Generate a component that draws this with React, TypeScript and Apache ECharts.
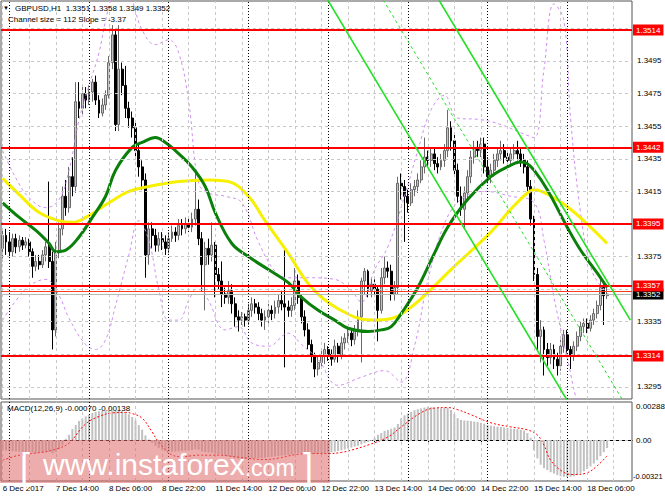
import React, { useEffect, useRef } from "react";
import * as echarts from "echarts";

const FONT = '"Liberation Sans", Arial, sans-serif';

// ---- time axis: trading hours shown (H1 bars) ----
const sessions: [string, number, number][] = [
  ["6 Dec", 22, 23], ["7 Dec", 0, 23], ["8 Dec", 0, 23], ["11 Dec", 0, 23], ["12 Dec", 0, 23],
  ["13 Dec", 0, 23], ["14 Dec", 0, 23], ["15 Dec", 0, 23], ["18 Dec", 0, 19],
];
const categories: string[] = [];
sessions.forEach(([d, a, b]) => {
  for (let h = a; h <= b; h++) categories.push(`${d} ${String(h).padStart(2, "0")}:00`);
});

// ---- candles [open, close, low, high] in pips above 1.3000 ----
const candles: number[][] = [
  [380,388,372,392],[388,384,376,392],[384,378,374,390],[378,386,375,389],[386,381,377,389],
  [381,385,378,388],[385,382,379,387],[382,384,380,387],[384,378,375,386],[378,369,362,380],
  [369,372,366,376],[372,370,367,376],[370,376,368,379],[376,381,372,384],[381,372,368,421],
  [372,330,318,378],[330,378,326,384],[378,392,374,396],[392,412,388,418],[412,405,400,422],
  [405,424,402,430],[424,418,412,436],[418,470,414,482],[470,466,460,482],[466,475,462,480],
  [475,471,466,479],[471,476,468,480],[476,482,470,484],[482,471,468,486],[471,463,460,474],
  [463,468,461,472],[468,474,465,477],[474,494,472,498],[494,511,490,517],[511,456,452,515],
  [456,490,452,517],[490,480,474,494],[480,466,460,492],[466,460,454,470],[460,454,448,464],
  [454,440,436,457],[440,430,424,444],[430,422,416,434],[422,376,362,426],[376,392,370,396],
  [392,388,380,396],[388,382,378,392],[382,386,378,390],[386,384,379,390],[384,380,376,388],
  [380,386,377,390],[386,390,384,394],[390,388,384,393],[388,394,385,398],[394,392,388,398],
  [392,395,389,399],[395,393,390,398],[393,398,390,402],[398,404,394,428],[404,386,382,410],
  [386,370,354,390],[370,380,342,384],[380,376,370,386],[376,382,372,396],[382,364,350,384],
  [364,360,355,368],[360,352,344,372],[352,350,346,356],[350,354,346,360],[354,346,340,358],
  [346,338,332,350],[338,336,329,342],[336,338,333,341],[338,336,332,340],[336,342,333,346],
  [342,346,338,350],[346,344,340,349],[344,340,336,347],[340,336,332,343],[336,338,330,342],
  [338,342,334,346],[342,340,336,345],[340,344,337,348],[344,348,340,352],[348,346,342,354],
  [346,344,307,379],[344,342,338,348],[342,345,338,350],[345,360,342,368],[360,350,346,364],
  [350,338,334,352],[338,330,326,342],[330,321,318,334],[321,314,310,324],[314,306,301,316],
  [306,310,302,314],[310,314,306,318],[314,318,309,322],[318,315,311,320],[315,312,308,318],
  [312,320,310,324],[320,314,310,322],[314,322,312,326],[322,325,318,328],[325,328,322,331],
  [328,324,320,330],[324,330,321,333],[330,338,326,342],[338,360,310,362],[360,366,352,368],
  [366,354,350,367],[354,358,350,362],[358,355,351,361],[355,342,323,357],[342,362,340,368],
  [362,368,358,375],[368,366,362,372],[366,352,348,370],[352,356,348,360],[356,420,352,424],
  [420,418,410,426],[418,412,384,422],[412,408,402,416],[408,416,406,420],[416,418,412,422],
  [418,422,414,426],[422,430,420,434],[430,436,426,448],[436,434,430,440],[434,438,430,442],
  [438,432,428,442],[432,430,426,436],[430,434,428,438],[434,440,430,444],[440,454,436,465],
  [454,446,440,458],[446,428,424,450],[428,412,408,432],[412,404,400,418],[404,414,392,418],
  [414,424,410,428],[424,436,420,440],[436,442,432,446],[442,440,436,446],[440,444,436,448],
  [444,430,426,448],[430,424,420,436],[424,428,420,432],[428,434,424,438],[434,438,430,442],
  [438,440,434,446],[440,436,432,444],[436,434,430,440],[434,438,430,442],[438,440,434,444],
  [440,438,434,446],[438,434,430,442],[434,430,426,438],[430,418,414,434],[418,398,394,422],
  [398,364,360,400],[364,326,318,368],[326,330,310,336],[330,318,302,332],[318,313,308,322],
  [313,318,309,322],[318,312,306,321],[312,308,302,316],[308,320,305,324],[320,327,316,330],
  [327,318,314,330],[318,314,306,320],[314,320,311,323],[320,326,317,329],[326,332,323,335],
  [332,334,328,337],[334,331,328,337],[331,336,329,339],[336,340,333,343],[340,345,337,348],
  [345,356,342,362],[356,351,333,358],[351,352,349,358],
];

// ---- moving averages / bands: [bar index, pips] ----
const yellowMA: number[][] = [
  [0,423],[5,413],[11,402],[17,397],[21,396],[25,399],[32,408],[38,415],[44,418],[53,421],
  [62,422],[68,421],[74,412],[79,397],[86,377],[93,356],[101,343],[111,336],[117,337],[123,344],
  [129,355],[135,367],[147,390],[153,404],[158,414],[160,416],[166,411],[171,404],[177,393],[182,383],
];
const greenMA: number[][] = [
  [0,408],[5,399],[10,391],[14,383],[16,378],[19,379],[23,387],[27,399],[31,412],[34,428],
  [39,442],[42,445],[46,448],[49,445],[52,440],[57,430],[61,418],[64,402],[69,383],[74,375],
  [80,367],[86,359],[90,350],[95,342],[100,336],[104,331],[110,329],[114,330],[117,332],[120,340],
  [125,356],[130,377],[134,393],[140,410],[147,424],[152,430],[156,433],[158,432],[160,428],[164,416],
  [170,393],[174,379],[179,365],[182,356],
];
const upperBand: number[][] = [
  [0,440],[4,423],[8,411],[13,405],[17,410],[20,428],[23,459],[26,480],[29,500],[31,520],
  [33,535],[36,545],[39,532],[42,514],[46,505],[50,508],[53,500],[56,470],[59,420],[62,414],
  [67,412],[72,408],[77,384],[82,366],[86,362],[92,362],[100,361],[105,354],[108,347],[112,367],
  [116,381],[121,412],[125,440],[129,465],[133,474],[137,460],[144,459],[150,456],[156,451],[160,448],
  [163,490],[166,530],[169,520],[171,460],[174,402],[177,369],[180,357],[182,354],
];
const lowerBand: number[][] = [
  [0,336],[4,348],[8,357],[13,361],[17,351],[20,337],[25,321],[28,318],[31,324],[34,345],
  [38,376],[41,397],[44,385],[47,355],[50,336],[53,336],[56,348],[59,357],[62,348],[67,330],
  [71,332],[75,322],[80,320],[86,328],[90,321],[95,312],[101,296],[108,301],[115,305],[120,298],
  [124,320],[128,360],[133,395],[138,410],[145,415],[153,412],[160,408],[163,385],[166,350],[170,313],
  [174,280],[178,270],[182,275],
];

// ---- regression channel (bar index, price) ----
const channelBars = [71, 189];
const channelUpper = [1.3738, 1.3336];
const channelMiddle = [1.3681, 1.3279];
const channelLower = [1.3624, 1.3222];

// ---- horizontal levels ----
const levels = [1.3514, 1.3442, 1.3395, 1.3357, 1.3314];
const bidPrice = 1.3352;
const askPrice = 1.3354;
const priceTicks = [1.3295, 1.3315, 1.3335, 1.3355, 1.3375, 1.3395, 1.3415, 1.3435, 1.3455, 1.3475, 1.3495, 1.3515];

// ---- MACD histogram (1e-5 units) ----
const macdHist: number[] = [
  -90,-92,-95,-98,-100,-102,-105,-106,-108,-110,-112,-112,-110,-108,-104,-115,-105,-80,-45,
  10,45,95,130,165,185,205,220,235,245,250,254,255,256,256,255,254,250,240,225,200,170,130,90,40,5,
  -25,-50,-70,-85,-95,
  -100,-102,-100,-98,-95,-92,-90,-86,-80,-85,-100,-105,-108,-110,-118,-125,-132,-138,-142,-148,
  -155,-160,-163,-164,-163,-160,-158,-157,-156,-154,-150,-146,-142,-138,-136,-133,-130,-126,-118,-115,
  -110,-112,-115,-118,-120,-120,-118,-115,-112,-108,-102,-96,-90,-82,-74,-66,-58,-50,-38,-28,-18,-8,
  20,45,60,80,88,98,108,
  140,190,215,230,245,258,268,275,282,288,285,280,278,276,278,280,262,225,190,175,170,168,165,160,
  156,150,142,130,125,120,116,112,108,104,100,97,94,90,82,60,20,
  -90,-160,-215,-245,-262,-280,-292,-305,-315,-320,-321,-320,-315,-305,-290,-272,-252,-230,-205,-175,
  -140,-105,-70,
];
const macdSignal: number[][] = [
  [0,-176],[5,-132],[12,-106],[17,-70],[20,-26],[25,140],[29,205],[33,235],[37,240],[39,230],
  [42,190],[45,70],[47,-18],[51,-130],[54,-145],[59,-132],[65,-132],[71,-150],[79,-170],[83,-158],
  [88,-128],[93,-118],[98,-118],[102,-108],[105,-88],[110,-44],[116,26],[120,114],[126,238],[130,278],
  [134,282],[137,264],[141,220],[147,150],[153,114],[158,88],[161,44],[163,-44],[165,-176],[169,-282],
  [172,-300],[176,-285],[179,-225],[182,-138],
];
const macdTicks = [0.00288, 0, -0.00321];

const toPrice = (p: number) => +(1.3 + p / 10000).toFixed(5);
const toMacd = (v: number) => +(v / 100000).toFixed(5);

function buildOption() {
  const dayStarts = categories.filter((c) => c.endsWith(" 00:00"));
  const gridCats = categories.filter((_, i) => i % 8 === 0);
  const vLines = [
    ...gridCats.map((c) => ({ xAxis: c, lineStyle: { color: "#c8c8c8", type: [3, 3], width: 1 }, label: { show: false } })),
    ...dayStarts.map((c) => ({ xAxis: c, lineStyle: { color: "#000", type: [1, 2], width: 1 }, label: { show: false } })),
  ];
  const nearLevel = (v: number) => levels.some((l) => Math.abs(l - v) < 0.00035);
  const hLines = priceTicks.map((v) => ({
    yAxis: v,
    lineStyle: { color: "#c8c8c8", type: [3, 3], width: 1 },
    label: { show: !nearLevel(v), position: "end", distance: 5, formatter: v.toFixed(4), color: "#000", fontSize: 8, fontFamily: FONT },
  }));
  const levelLabel = (bg: string) => ({
    show: true, position: "end", distance: 1, color: "#fff", backgroundColor: bg,
    padding: [2, 3, 1, 3], fontSize: 8, fontFamily: FONT,
    formatter: (p: any) => Number(p.value).toFixed(4),
  });

  const lineSeries = (name: string, data: number[][], color: string, width: number, type: any, z: number) => ({
    name, type: "line", xAxisIndex: 0, yAxisIndex: 0, z,
    data: data.map(([i, p]) => [i, toPrice(p)]),
    showSymbol: false, symbol: "none", smooth: 0.4, silent: true,
    lineStyle: { color, width, type },
  });
  const channelSeries = (vals: number[], dashed: boolean) => ({
    type: "line", xAxisIndex: 0, yAxisIndex: 0, z: 5, silent: true,
    data: channelBars.map((b, k) => [b, vals[k]]), showSymbol: false, symbol: "none", clip: true,
    lineStyle: { color: "#22e022", width: dashed ? 1 : 1.6, type: dashed ? [3, 3] : "solid" },
  });

  return {
    animation: false,
    backgroundColor: "#fff",
    textStyle: { fontFamily: FONT },
    grid: [
      { left: 1, top: 1, width: 631, height: 398, show: true, borderColor: "#555", borderWidth: 1, backgroundColor: "transparent", outerBoundsMode: "none" },
      { left: 1, top: 402, width: 631, height: 79, show: true, borderColor: "#555", borderWidth: 1, backgroundColor: "transparent", outerBoundsMode: "none" },
    ],
    xAxis: [
      { type: "category", gridIndex: 0, data: categories, boundaryGap: true, show: false },
      {
        type: "category", gridIndex: 1, data: categories, boundaryGap: true,
        axisLine: { lineStyle: { color: "#000" } },
        axisTick: { show: true, length: 3, alignWithLabel: true, interval: (i: number) => i % 16 === 0, lineStyle: { color: "#000" } },
        axisLabel: {
          interval: (i: number) => i % 16 === 0, align: "left", margin: 3, fontSize: 8, color: "#000", fontFamily: FONT,
          formatter: (v: string, i: number) => (i === 0 ? "6 Dec 2017" : v),
        },
        splitLine: { show: false },
      },
    ],
    yAxis: [
      { type: "value", gridIndex: 0, min: 1.32876, max: 1.35318, show: false, splitLine: { show: false } },
      { type: "value", gridIndex: 1, min: -0.003567, max: 0.003306, show: false, splitLine: { show: false } },
    ],
    series: [
      {
        type: "line", xAxisIndex: 0, yAxisIndex: 0, data: [], z: 1, silent: true,
        markLine: { silent: true, precision: 6, symbol: ["none", "none"], animation: false, data: [...hLines, ...vLines] },
      },
      {
        type: "candlestick", xAxisIndex: 0, yAxisIndex: 0, z: 3, barWidth: 2.4,
        data: candles.map((c) => c.map(toPrice)),
        itemStyle: { color: "#c4c4c4", color0: "#000", borderColor: "#6a6a6a", borderColor0: "#000", borderWidth: 1 },
      },
      lineSeries("upper", upperBand, "#cf8ef0", 1, [3, 3], 4),
      lineSeries("lower", lowerBand, "#cf8ef0", 1, [3, 3], 4),
      lineSeries("slow", yellowMA, "#f7f000", 3, "solid", 4),
      lineSeries("fast", greenMA, "#0a800a", 3, "solid", 4),
      channelSeries(channelUpper, false),
      channelSeries(channelMiddle, true),
      channelSeries(channelLower, false),
      {
        type: "line", xAxisIndex: 0, yAxisIndex: 0, data: [], z: 6, silent: true,
        markLine: {
          silent: true, precision: 6, symbol: ["none", "none"], animation: false,
          data: [
            { yAxis: askPrice, lineStyle: { color: "#ff3b1f", width: 1, type: "solid" }, label: { show: false } },
            { yAxis: bidPrice, lineStyle: { color: "#b8b8b8", width: 1, type: "solid" }, label: levelLabel("#000") },
            ...levels.map((v) => ({ yAxis: v, lineStyle: { color: "#ff0000", width: 2, type: "solid" }, label: levelLabel("#ff0000") })),
          ],
        },
      },
      {
        type: "line", xAxisIndex: 1, yAxisIndex: 1, data: [], z: 1, silent: true,
        markLine: {
          silent: true, precision: 6, symbol: ["none", "none"], animation: false,
          data: [
            ...vLines,
            ...macdTicks.map((v) => ({
              yAxis: v,
              lineStyle: v === 0 ? { color: "#c8c8c8", type: [3, 3], width: 1 } : { color: "rgba(0,0,0,0)", width: 0 },
              label: {
                show: true, position: "end", distance: v < 0 ? 1 : 4, color: "#000",
                fontSize: v < 0 ? 7.5 : 8, fontFamily: FONT, formatter: v === 0 ? "0.00" : v.toFixed(5),
              },
            })),
          ],
        },
      },
      {
        type: "bar", xAxisIndex: 1, yAxisIndex: 1, z: 3, barWidth: 2, silent: true,
        data: macdHist.map(toMacd), itemStyle: { color: "#c0c0c0" },
      },
      {
        type: "line", xAxisIndex: 1, yAxisIndex: 1, z: 4, silent: true, smooth: 0.4,
        data: macdSignal.map(([i, v]) => [i, toMacd(v)]), showSymbol: false, symbol: "none",
        lineStyle: { color: "#ff0000", width: 1, type: [2, 2] },
      },
    ],
    graphic: [
      { type: "text", x: 3, y: 8, z: 50, style: { text: "▼", fontSize: 6, fill: "#000", verticalAlign: "middle" } },
      { type: "text", x: 15, y: 8, z: 50, style: { text: "GBPUSD,H1  1.3351 1.3358 1.3349 1.3352", fontSize: 8, fontFamily: FONT, fill: "#000", verticalAlign: "middle" } },
      { type: "text", x: 8, y: 19, z: 50, style: { text: "Channel size = 112 Slope = -3.37", fontSize: 8, fontFamily: FONT, fill: "#000", verticalAlign: "middle" } },
      { type: "text", x: 7, y: 408, z: 50, style: { text: "MACD(12,26,9) -0.00070 -0.00138", fontSize: 8, fontFamily: FONT, fill: "#000", verticalAlign: "middle" } },
      { type: "rect", z: 60, shape: { x: 0, y: 440, width: 330, height: 43 }, style: { fill: "rgba(222,105,105,0.55)" } },
      { type: "text", x: 20, y: 484, z: 61, style: { text: "[", fontSize: 36, fontFamily: FONT, fill: "#fff", verticalAlign: "bottom" } },
      {
        type: "text", x: 43, y: 479, z: 61,
        style: {
          text: "{w|www.instaforex}{c|.com}", fill: "#fff", verticalAlign: "bottom",
          rich: { w: { fontSize: 30, fontFamily: FONT, fill: "#fff", verticalAlign: "bottom" }, c: { fontSize: 23, fontFamily: FONT, fill: "#fff", verticalAlign: "bottom" } },
        },
      },
      { type: "text", x: 303, y: 484, z: 61, style: { text: "]", fontSize: 36, fontFamily: FONT, fill: "#fff", verticalAlign: "bottom" } },
    ],
  };
}

export default function App() {
  const ref = useRef<HTMLDivElement>(null);
  useEffect(() => {
    if (!ref.current) return;
    const chart = echarts.init(ref.current, undefined, { renderer: "svg" });
    chart.setOption(buildOption() as any);
    return () => chart.dispose();
  }, []);
  return <div ref={ref} style={{ position: "fixed", left: 0, top: 0, width: 665, height: 499, background: "#fff" }} />;
}
